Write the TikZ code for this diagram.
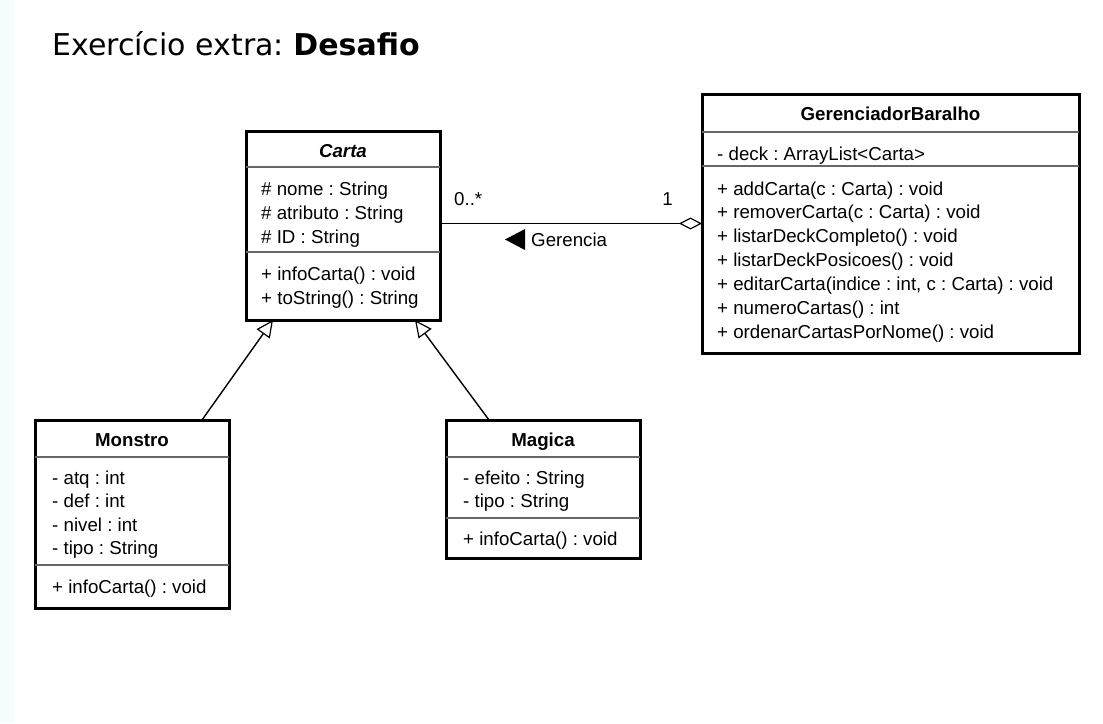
\documentclass[tikz,border=0pt]{standalone}
\usepackage{fontspec}
\setmainfont{Liberation Sans}
\newfontfamily\titlefont{DejaVu Sans}
\usepackage{tikz}
\usetikzlibrary{arrows.meta}
\usetikzlibrary{positioning}
\frenchspacing

\newcommand\umlfont{\fontsize{18.7}{24}\selectfont}
\definecolor{leftband}{RGB}{245,252,254}

\tikzset{
classbox/.style={draw=black,line width=3pt,fill=white,inner sep=0pt,outer sep=0pt},
classname/.style={font=\umlfont\bfseries,anchor=base,inner sep=0pt},
members/.style={font=\umlfont,anchor=base west,inner sep=0pt},
divider/.style={draw=black!60,line width=1.4pt},
inherit/.style={-{Triangle[open,length=17pt,width=16pt,line width=1.2pt]},line width=1.4pt},
aggregation/.style={{Diamond[open,length=23pt,width=12pt,line width=1.2pt]}-,line width=1.4pt},
mult/.style={font=\umlfont,anchor=base west,inner sep=0pt}
}

\begin{document}
\begin{tikzpicture}[x=1pt,y=-1pt]
\useasboundingbox (0,0) rectangle (1103,723);
\fill[white] (0,0) rectangle (1103,723);
\fill[leftband] (0,0) rectangle (14,723);

\node[anchor=base west,inner sep=0pt,font=\titlefont\fontsize{30}{36}\selectfont] (titulo) at (52,55) {Exercício extra: \textbf{Desafio}};

\node[classbox,minimum width=194,minimum height=189] (carta) at (343,225.5) {};
\node[classbox,minimum width=377,minimum height=259] (gerenciador) at (890.5,223.5) {};
\node[classbox,minimum width=194,minimum height=188] (monstro) at (132,514) {};
\node[classbox,minimum width=194,minimum height=138] (magica) at (543,489) {};

\draw[divider] ([yshift=-36pt]carta.north west) -- ([yshift=-36pt]carta.north east);
\draw[divider] ([yshift=-121pt]carta.north west) -- ([yshift=-121pt]carta.north east);
\draw[divider] ([yshift=-38pt]gerenciador.north west) -- ([yshift=-38pt]gerenciador.north east);
\draw[divider] ([yshift=-72pt]gerenciador.north west) -- ([yshift=-72pt]gerenciador.north east);
\draw[divider] ([yshift=-37pt]monstro.north west) -- ([yshift=-37pt]monstro.north east);
\draw[divider] ([yshift=-145pt]monstro.north west) -- ([yshift=-145pt]monstro.north east);
\draw[divider] ([yshift=-37pt]magica.north west) -- ([yshift=-37pt]magica.north east);
\draw[divider] ([yshift=-98pt]magica.north west) -- ([yshift=-98pt]magica.north east);

\node[classname,font=\umlfont\bfseries\itshape] (cartanome) at (343,157) {Carta};
\node[classname] (gerenciadornome) at (890.5,120) {GerenciadorBaralho};
\node[classname] (monstronome) at (132,446) {Monstro};
\node[classname] (magicanome) at (543,446) {Magica};

\foreach \linha [count=\i from 0] in {{\# nome : String},{\# atributo : String},{\# ID : String}}
  \node[members] (cartaattr\i) at (261,195+24.4*\i) {\linha};
\foreach \linha [count=\i from 0] in {{+ infoCarta() : void},{+ toString() : String}}
  \node[members] (cartamet\i) at (261,280+24*\i) {\linha};

\node[members] (gerenciadorattr) at (717,160) {- deck : ArrayList<Carta>};
\foreach \linha [count=\i from 0] in {{+ addCarta(c : Carta) : void},{+ removerCarta(c : Carta) : void},{+ listarDeckCompleto() : void},{+ listarDeckPosicoes() : void},{+ editarCarta(indice : int, c : Carta) : void},{+ numeroCartas() : int},{+ ordenarCartasPorNome() : void}}
  \node[members] (gerenciadormet\i) at (717,195+23.85*\i) {\linha};

\foreach \linha [count=\i from 0] in {{- atq : int},{- def : int},{- nivel : int},{- tipo : String}}
  \node[members] (monstroattr\i) at (52,484+23.6*\i) {\linha};
\node[members] (monstromet) at (52,593) {+ infoCarta() : void};

\foreach \linha [count=\i from 0] in {{- efeito : String},{- tipo : String}}
  \node[members] (magicaattr\i) at (463,484+23.5*\i) {\linha};
\node[members] (magicamet) at (463,545) {+ infoCarta() : void};

\draw[inherit] ([xshift=70pt]monstro.north) -- ([xshift=-70pt]carta.south);
\draw[inherit] ([xshift=-54pt]magica.north) -- ([xshift=72pt]carta.south);

\draw[aggregation] (gerenciador.west) -- (gerenciador.west -| carta.east);
\node[mult] (multcarta) at (454,205) {0..*};
\node[mult,anchor=base east] (multgerenciador) at ([xshift=-29pt,yshift=18.5pt]gerenciador.west) {1};
\node[mult] (gerencia) at (531,246) {Gerencia};
\fill ([xshift=-6pt,yshift=17pt]gerencia.base west) -- ++(0,21) -- ++(-20,-10.5) -- cycle;

\end{tikzpicture}
\end{document}
